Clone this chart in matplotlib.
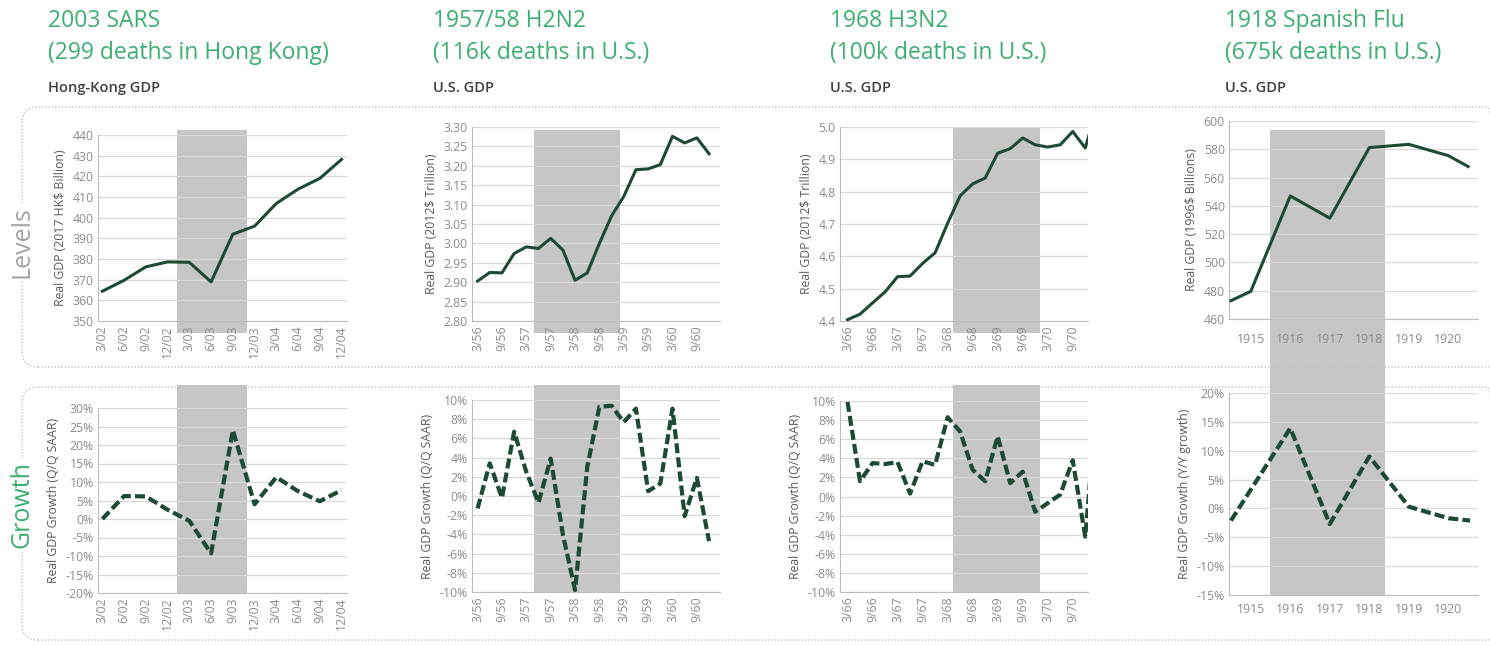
import matplotlib
matplotlib.use("Agg")
import matplotlib.pyplot as plt
import matplotlib.transforms as mtransforms
from matplotlib.patches import Rectangle, FancyBboxPatch
from matplotlib.ticker import FuncFormatter, MultipleLocator

W, H = 1490, 645

plt.rcParams['font.family'] = ['Open Sans', 'DejaVu Sans']

GREEN_TITLE = "#3dae74"
LINE = "#1d4a32"
SHADE = "#c6c6c6"
GRID = "#dadada"
SPINE = "#bdbdbd"
TICK = "#8c8c8c"
LABEL = "#5a5a5a"

# ---- data ----
titles = ["2003 SARS", "1957/58 H2N2", "1968 H3N2", "1918 Spanish Flu"]
deaths = ["(299 deaths in Hong Kong)", "(116k deaths in U.S.)",
          "(100k deaths in U.S.)", "(675k deaths in U.S.)"]
subtitles = ["Hong-Kong GDP", "U.S. GDP", "U.S. GDP", "U.S. GDP"]

sars_quarters = ["3/02", "6/02", "9/02", "12/02", "3/03", "6/03",
                 "9/03", "12/03", "3/04", "6/04", "9/04", "12/04"]
sars_gdp = [364.4, 369.7, 376.2, 378.6, 378.4, 368.9,
            392.0, 395.9, 406.9, 413.8, 419.0, 428.2]
sars_growth = [0.0, 6.2, 6.1, 2.5, -0.5, -9.3,
               24.0, 4.0, 11.3, 7.5, 4.8, 7.8]
sars_shade = [3.45, 6.65]

h2n2_quarters = ["3/56", "6/56", "9/56", "12/56", "3/57", "6/57", "9/57",
                 "12/57", "3/58", "6/58", "9/58", "12/58", "3/59", "6/59",
                 "9/59", "12/59", "3/60", "6/60", "9/60", "12/60"]
h2n2_gdp = [2.903, 2.925, 2.924, 2.974, 2.991, 2.987, 3.013, 2.983, 2.905,
            2.924, 3.000, 3.071, 3.121, 3.190, 3.192, 3.203, 3.276, 3.259,
            3.272, 3.231]
h2n2_growth = [-1.3, 3.4, -0.2, 6.7, 2.5, -0.7, 3.9, -4.0, -9.8, 3.0, 9.3,
               9.4, 7.7, 9.1, 0.5, 1.3, 9.1, -2.1, 1.9, -4.7]
h2n2_shade = [4.65, 11.65]

h3n2_quarters = ["3/66", "6/66", "9/66", "12/66", "3/67", "6/67", "9/67",
                 "12/67", "3/68", "6/68", "9/68", "12/68", "3/69", "6/69",
                 "9/69", "12/69", "3/70", "6/70", "9/70", "12/70", "3/71"]
h3n2_gdp = [4.404, 4.421, 4.456, 4.490, 4.537, 4.539, 4.578, 4.611, 4.702,
            4.787, 4.824, 4.842, 4.919, 4.933, 4.966, 4.945, 4.938, 4.945,
            4.986, 4.935, 5.068]
h3n2_growth = [9.9, 1.6, 3.5, 3.4, 3.6, 0.3, 3.7, 3.3, 8.3, 6.8, 2.8, 1.6,
               6.3, 1.4, 2.6, -1.6, -0.7, 0.2, 3.8, -4.2, 11.0]
h3n2_shade = [8.4, 15.4]

flu_years = [1915, 1916, 1917, 1918, 1919, 1920]
flu_level_x = [1914.5, 1915, 1916, 1917, 1918, 1919, 1920, 1920.5]
flu_gdp = [473.0, 479.5, 547.0, 531.3, 581.2, 583.5, 575.5, 567.8]
flu_growth_x = [1914.5, 1916, 1917, 1918, 1919, 1920, 1920.55]
flu_growth = [-2.1, 13.9, -2.7, 9.0, 0.3, -1.7, -2.1]
flu_shade = [1915.5, 1918.4]

fig = plt.figure(figsize=(W / 100.0, H / 100.0), dpi=100)


def px_axes(left, right, top, bottom):
    ax = fig.add_axes([left / W, 1 - bottom / H, (right - left) / W, (bottom - top) / H])
    ax.set_facecolor("none")
    return ax


def style_axes(ax, ylim, ystep, fmt, ylabel):
    ax.set_ylim(*ylim)
    ax.yaxis.set_major_locator(MultipleLocator(ystep))
    ax.yaxis.set_major_formatter(FuncFormatter(fmt))
    ax.grid(axis='y', color=GRID, lw=0.9)
    ax.set_axisbelow(True)
    for s in ['top', 'right']:
        ax.spines[s].set_visible(False)
    for s in ['left', 'bottom']:
        ax.spines[s].set_color(SPINE)
    ax.tick_params(length=0, labelsize=8.8, labelcolor=TICK, pad=3)
    ax.set_ylabel(ylabel, fontsize=8.8, color=LABEL, labelpad=4)


def shade(ax, span, y_top, y_bottom):
    # x in data units, y in figure pixels (runs past the axes like the original)
    trans = mtransforms.blended_transform_factory(ax.transData, fig.transFigure)
    r = Rectangle((span[0], 1 - y_bottom / H), span[1] - span[0], (y_bottom - y_top) / H,
                  transform=trans, facecolor=SHADE, lw=0, zorder=0.2, clip_on=False)
    ax.add_patch(r)


def quarter_ticks(ax, quarters, step, n):
    idx = list(range(0, n, step))
    ax.set_xticks(idx)
    ax.set_xticklabels([quarters[i] for i in idx], rotation=90)


pct = lambda v, pos: "%d%%" % round(v)

# ---- dotted frames and row labels ----
for top, bottom in [(107, 367), (387, 640)]:
    box = FancyBboxPatch((22 / 100.0, (H - bottom) / 100.0), 1480 / 100.0, (bottom - top) / 100.0,
                         boxstyle="round,pad=0,rounding_size=0.16",
                         transform=fig.dpi_scale_trans, facecolor="none",
                         edgecolor="#b9c6bd", lw=1.0, linestyle=(0, (1, 1.4)), zorder=1)
    fig.patches.append(box)

fig.text(22 / W, 1 - 242 / H, "Levels", rotation=90, ha='center', va='center',
         fontsize=18, color="#a3a3a3",
         bbox=dict(facecolor='white', edgecolor='none', pad=2), zorder=3)
fig.text(22 / W, 1 - 505 / H, "Growth", rotation=90, ha='center', va='center',
         fontsize=18, color=GREEN_TITLE,
         bbox=dict(facecolor='white', edgecolor='none', pad=2), zorder=3)

# ---- titles ----
title_x = [48, 433, 830, 1225]
for i in range(4):
    fig.text(title_x[i] / W, 1 - 21 / H, titles[i], fontsize=16.5, color=GREEN_TITLE, va='center')
    fig.text(title_x[i] / W, 1 - 53 / H, deaths[i], fontsize=16.5, color=GREEN_TITLE, va='center')
    fig.text(title_x[i] / W, 1 - 88 / H, subtitles[i], fontsize=10.5, fontweight='semibold',
             color="#404040", va='center')

# ---- 2003 SARS ----
ax = px_axes(98, 347, 135, 321)
shade(ax, sars_shade, 130, 333)
ax.plot(range(len(sars_gdp)), sars_gdp, color=LINE, lw=2.2, zorder=3)
style_axes(ax, (350, 440), 10, lambda v, p: "%d" % round(v), "Real GDP (2017 HK\\$ Billion)")
quarter_ticks(ax, sars_quarters, 1, len(sars_quarters))
ax.set_xlim(-0.2, 11.25)

ax = px_axes(98, 347, 408, 593)
shade(ax, sars_shade, 385, 593)
ax.plot(range(len(sars_growth)), sars_growth, color=LINE, lw=3, dashes=(2.4, 1.0), zorder=3)
style_axes(ax, (-20, 30), 5, pct, "Real GDP Growth (Q/Q SAAR)")
quarter_ticks(ax, sars_quarters, 1, len(sars_quarters))
ax.set_xlim(-0.2, 11.25)

# ---- 1957/58 H2N2 ----
ax = px_axes(472, 720, 127, 321)
shade(ax, h2n2_shade, 130, 333)
ax.plot(range(len(h2n2_gdp)), h2n2_gdp, color=LINE, lw=2.2, zorder=3)
style_axes(ax, (2.80, 3.30), 0.05, lambda v, p: "%.2f" % v, "Real GDP (2012\\$ Trillion)")
quarter_ticks(ax, h2n2_quarters, 2, len(h2n2_quarters))
ax.set_xlim(-0.46, 19.9)

ax = px_axes(472, 720, 400, 592)
shade(ax, h2n2_shade, 385, 592)
ax.plot(range(len(h2n2_growth)), h2n2_growth, color=LINE, lw=3, dashes=(2.4, 1.0), zorder=3)
style_axes(ax, (-10, 10), 2, pct, "Real GDP Growth (Q/Q SAAR)")
quarter_ticks(ax, h2n2_quarters, 2, len(h2n2_quarters))
ax.set_xlim(-0.46, 19.9)

# ---- 1968 H3N2 ----
ax = px_axes(840, 1088, 127, 321)
shade(ax, h3n2_shade, 128, 333)
ax.plot(range(len(h3n2_gdp)), h3n2_gdp, color=LINE, lw=2.2, zorder=3)
style_axes(ax, (4.4, 5.0), 0.1, lambda v, p: "%.1f" % v, "Real GDP (2012\\$ Trillion)")
quarter_ticks(ax, h3n2_quarters, 2, 20)
ax.set_xlim(-0.6, 19.22)

ax = px_axes(840, 1088, 401, 592)
shade(ax, h3n2_shade, 385, 592)
ax.plot(range(len(h3n2_growth)), h3n2_growth, color=LINE, lw=3, dashes=(2.4, 1.0), zorder=3)
style_axes(ax, (-10, 10), 2, pct, "Real GDP Growth (Q/Q SAAR)")
quarter_ticks(ax, h3n2_quarters, 2, 20)
ax.set_xlim(-0.6, 19.22)

# ---- 1918 Spanish Flu ----
ax = px_axes(1229, 1478, 121, 319)
shade(ax, flu_shade, 130, 595)
ax.plot(flu_level_x, flu_gdp, color=LINE, lw=2.2, zorder=3)
style_axes(ax, (460, 600), 20, lambda v, p: "%d" % round(v), "Real GDP (1996\\$ Billions)")
ax.set_xticks(flu_years)
ax.set_xticklabels([str(y) for y in flu_years])
ax.tick_params(axis='x', pad=10)
ax.set_xlim(1914.45, 1920.75)

ax = px_axes(1229, 1478, 393, 595)
ax.plot(flu_growth_x, flu_growth, color=LINE, lw=3, dashes=(2.4, 1.0), zorder=3)
style_axes(ax, (-15, 20), 5, pct, "Real GDP Growth (Y/Y growth)")
ax.set_xticks(flu_years)
ax.set_xticklabels([str(y) for y in flu_years])
ax.tick_params(axis='x', pad=6)
ax.set_xlim(1914.45, 1920.75)

fig.savefig("out.png", dpi=100)
